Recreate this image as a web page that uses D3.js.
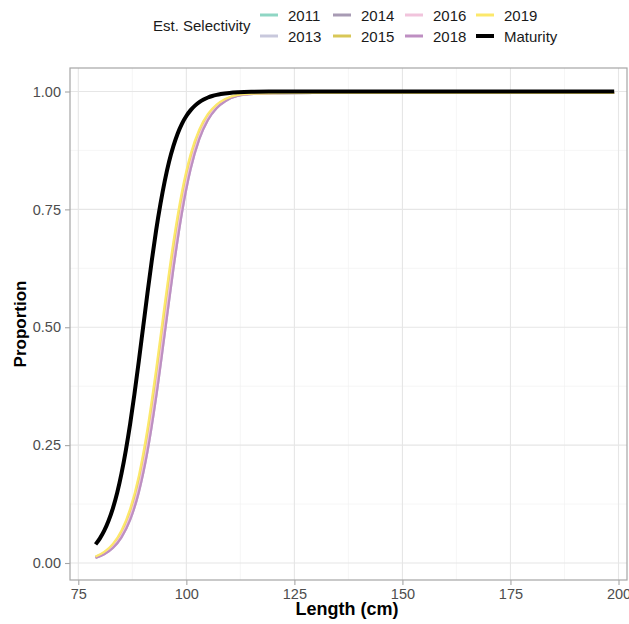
<!DOCTYPE html>
<html><head><meta charset="utf-8">
<script src="https://cdn.jsdelivr.net/npm/d3@7"></script>
<style>body{margin:0;background:#fff}text{font-family:"Liberation Sans",Arial,sans-serif}</style>
</head><body><svg id="c" width="629" height="624"></svg>
<script>
const lengths = [79,81,83,85,87,89,91,93,95,97,99,101,103,105,107,109,112,116,120,130,160,199];
const sel2011 = [0.0125,0.0217,0.0374,0.0637,0.1064,0.1725,0.2674,0.3899,0.528,0.662,0.7742,0.8572,0.9131,0.9484,0.9699,0.9826,0.9924,0.9955,0.9965,0.997,0.997,0.997];
const sel2013 = [0.0106,0.0184,0.0318,0.0544,0.0914,0.1498,0.2358,0.3507,0.486,0.6234,0.7434,0.8354,0.8988,0.9396,0.9646,0.9794,0.991,0.9951,0.9963,0.997,0.997,0.997];
const sel2014 = [0.0115,0.02,0.0345,0.0589,0.0987,0.1608,0.2513,0.3701,0.507,0.6429,0.7591,0.8466,0.9062,0.9442,0.9673,0.9811,0.9917,0.9953,0.9964,0.997,0.997,0.997];
const sel2015 = [0.0125,0.0217,0.0374,0.0637,0.1064,0.1725,0.2674,0.3899,0.528,0.662,0.7742,0.8572,0.9131,0.9484,0.9699,0.9826,0.9924,0.9955,0.9965,0.997,0.997,0.997];
const sel2016 = [0.0115,0.02,0.0345,0.0589,0.0987,0.1608,0.2513,0.3701,0.507,0.6429,0.7591,0.8466,0.9062,0.9442,0.9673,0.9811,0.9917,0.9953,0.9964,0.997,0.997,0.997];
const sel2018 = [0.0106,0.0184,0.0318,0.0544,0.0914,0.1498,0.2358,0.3507,0.486,0.6234,0.7434,0.8354,0.8988,0.9396,0.9646,0.9794,0.991,0.9951,0.9963,0.997,0.997,0.997];
const sel2019 = [0.0136,0.0236,0.0405,0.0689,0.1147,0.1848,0.2842,0.41,0.549,0.6805,0.7886,0.8672,0.9195,0.9524,0.9722,0.984,0.993,0.9957,0.9966,0.997,0.997,0.997];
const matLengths = [79,80,81,82,83,84,85,86,87,88,89,90,91,92,93,94,95,96,97,98,99,100,101,102,103,104,105,106,107,108,110,112,115,120,125,150,199];
const maturity = [0.0395,0.0522,0.0685,0.0895,0.116,0.149,0.19,0.239,0.295,0.359,0.428,0.5,0.572,0.641,0.705,0.761,0.81,0.851,0.884,0.911,0.932,0.948,0.9605,0.97,0.9775,0.983,0.9873,0.9904,0.9928,0.9946,0.997,0.9983,0.9993,0.9998,1,1,1];
const seriesNames = ["2011","2013","2014","2015","2016","2018","2019"];
const seriesColors = ["#8fd6c4","#c8c8dc","#a89bb4","#d8c757","#f1c4dc","#be8fc2","#fce86b"];
const xTicks = [75,100,125,150,175,200];
const yTicks = [0,0.25,0.5,0.75,1];
const legendOrder = ["2011","2013","2014","2015","2016","2018","2019","Maturity"];

const selValues = [sel2011,sel2013,sel2014,sel2015,sel2016,sel2018,sel2019];
const svg = d3.select("#c");
const x = d3.scaleLinear().domain([75,200]).range([78.3,618.5]);
const y = d3.scaleLinear().domain([0,1]).range([563,91.5]);
const pL = 70, pR = 627, pT = 68, pB = 580;

svg.append("defs").append("clipPath").attr("id","clip").append("rect")
  .attr("x",pL).attr("y",pT).attr("width",pR-pL).attr("height",pB-pT);

const g = svg.append("g");
[87.5,112.5,137.5,162.5,187.5].forEach(v=>g.append("line").attr("x1",x(v)).attr("x2",x(v)).attr("y1",pT).attr("y2",pB).attr("stroke","#f2f2f2").attr("stroke-width",0.7));
[0.125,0.375,0.625,0.875].forEach(v=>g.append("line").attr("y1",y(v)).attr("y2",y(v)).attr("x1",pL).attr("x2",pR).attr("stroke","#f2f2f2").attr("stroke-width",0.7));
xTicks.forEach(v=>g.append("line").attr("x1",x(v)).attr("x2",x(v)).attr("y1",pT).attr("y2",pB).attr("stroke","#e6e6e6").attr("stroke-width",1.1));
yTicks.forEach(v=>g.append("line").attr("y1",y(v)).attr("y2",y(v)).attr("x1",pL).attr("x2",pR).attr("stroke","#e6e6e6").attr("stroke-width",1.1));

const line = d3.line().x(d=>x(d[0])).y(d=>y(d[1])).curve(d3.curveMonotoneX);
const lines = svg.append("g").attr("clip-path","url(#clip)");
selValues.forEach((vals,i)=>{
  lines.append("path").datum(lengths.map((l,j)=>[l,vals[j]]))
    .attr("d",line).attr("fill","none").attr("stroke",seriesColors[i]).attr("stroke-width",2.2);
});
lines.append("path").datum(matLengths.map((l,j)=>[l,maturity[j]]))
  .attr("d",line).attr("fill","none").attr("stroke","#000").attr("stroke-width",4);

svg.append("rect").attr("x",pL).attr("y",pT).attr("width",pR-pL).attr("height",pB-pT)
  .attr("fill","none").attr("stroke","#a6a6a6").attr("stroke-width",1.2);

const xAxis = svg.append("g").attr("transform",`translate(0,${pB})`)
  .call(d3.axisBottom(x).tickValues(xTicks).tickSize(5).tickPadding(4).tickFormat(d3.format("d")));
const yAxis = svg.append("g").attr("transform",`translate(${pL},0)`)
  .call(d3.axisLeft(y).tickValues(yTicks).tickSize(5).tickPadding(4).tickFormat(d3.format(".2f")));
[xAxis,yAxis].forEach(a=>{
  a.select(".domain").remove();
  a.selectAll(".tick line").attr("stroke","#a6a6a6").attr("stroke-width",1.1);
  a.selectAll(".tick text").attr("fill","#4d4d4d").style("font-size","14.5px").style("font-family","Liberation Sans, Arial, sans-serif");
});

svg.append("text").attr("x",347).attr("y",615).attr("text-anchor","middle")
  .style("font-size","18px").style("font-weight","bold").text("Length (cm)");
svg.append("text").attr("transform",`translate(26,${(pT+pB)/2}) rotate(-90)`).attr("text-anchor","middle")
  .style("font-size","17px").style("font-weight","bold").text("Proportion");

const lg = svg.append("g");
lg.append("text").attr("x",153).attr("y",31).style("font-size","15px").attr("fill","#1a1a1a").text("Est. Selectivity");
const colX = [260,333,405,476];
const rowY = [15,36];
legendOrder.forEach((name,i)=>{
  const c = Math.floor(i/2), r = i%2;
  const isMat = name==="Maturity";
  const col = isMat ? "#000" : seriesColors[seriesNames.indexOf(name)];
  lg.append("line").attr("x1",colX[c]).attr("x2",colX[c]+18).attr("y1",rowY[r]).attr("y2",rowY[r])
    .attr("stroke",col).attr("stroke-width",isMat?4:3);
  lg.append("text").attr("x",colX[c]+28).attr("y",rowY[r]+5.5).style("font-size","15px").attr("fill","#1a1a1a").text(name);
});
</script></body></html>
